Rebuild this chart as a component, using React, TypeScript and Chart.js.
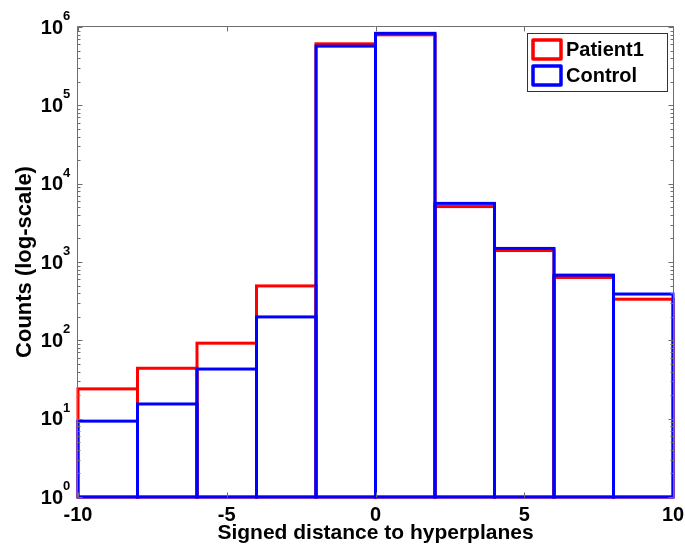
import { useEffect, useRef } from 'react';
import { Chart, registerables } from 'chart.js';

Chart.register(...registerables);

// ---- data ----
const binCenters = [-9, -7, -5, -3, -1, 1, 3, 5, 7, 9];
const patient1Counts = [24, 44, 92, 495, 610000, 795000, 5100, 1400, 635, 335];
const controlCounts = [9.3, 15.4, 43, 199, 570000, 830000, 5600, 1490, 680, 390];
const xTickValues = [-10, -5, 0, 5, 10];
const yDecadeExponents = [0, 1, 2, 3, 4, 5, 6];
const seriesNames = ['Patient1', 'Control'];
const seriesColors = ['#ff0000', '#0000ff'];
const xAxisTitle = 'Signed distance to hyperplanes';
const yAxisTitle = 'Counts (log-scale)';

const FONT = '"Liberation Sans", Arial, Helvetica, sans-serif';
const AXIS_GRAY = '#6e6e6e';
const BAR_LINE = 3;

// strokes each bar outline centred on the bar's edges (MATLAB hist style)
const barOutlinePlugin = {
  id: 'barOutline',
  afterDatasetsDraw(chart: any) {
    const ctx = chart.ctx as CanvasRenderingContext2D;
    ctx.save();
    ctx.lineWidth = BAR_LINE;
    ctx.lineJoin = 'miter';
    chart.data.datasets.forEach((ds: any, di: number) => {
      const meta = chart.getDatasetMeta(di);
      ctx.strokeStyle = ds.outlineColor;
      meta.data.forEach((el: any) => {
        const { x, y, base, width } = el.getProps(['x', 'y', 'base', 'width'], true);
        ctx.strokeRect(x - width / 2, y, width, base - y);
      });
    });
    ctx.restore();
  },
};

const matlabAxesPlugin = {
  id: 'matlabAxes',
  afterDraw(chart: any) {
    const ctx = chart.ctx as CanvasRenderingContext2D;
    const { left, right, top, bottom } = chart.chartArea;
    const xs = chart.scales.x;
    const ys = chart.scales.y;
    ctx.save();
    ctx.strokeStyle = AXIS_GRAY;
    ctx.lineWidth = 1;
    const L = Math.round(left) - 0.5;
    const R = Math.round(right) + 0.5;
    const T = Math.round(top) - 0.5;
    const B = Math.round(bottom) + 0.5;
    ctx.beginPath();
    ctx.moveTo(L, B);
    ctx.lineTo(L, T);
    ctx.lineTo(R, T);
    ctx.lineTo(R, B);
    for (const v of xTickValues) {
      const px = Math.round(xs.getPixelForValue(v)) + 0.5;
      ctx.moveTo(px, B);
      ctx.lineTo(px, B - 5);
      ctx.moveTo(px, T);
      ctx.lineTo(px, T + 5);
    }
    for (const e of yDecadeExponents) {
      const py = Math.round(ys.getPixelForValue(Math.pow(10, e))) + 0.5;
      ctx.moveTo(L, py);
      ctx.lineTo(L + 5, py);
      ctx.moveTo(R, py);
      ctx.lineTo(R - 5, py);
      if (e < yDecadeExponents[yDecadeExponents.length - 1]) {
        for (let m = 2; m <= 9; m++) {
          const pm = Math.round(ys.getPixelForValue(m * Math.pow(10, e))) + 0.5;
          ctx.moveTo(L, pm);
          ctx.lineTo(L + 3, pm);
          ctx.moveTo(R, pm);
          ctx.lineTo(R - 3, pm);
        }
      }
    }
    ctx.stroke();

    // y tick labels 10^e
    ctx.fillStyle = '#000';
    for (const e of yDecadeExponents) {
      const py = ys.getPixelForValue(Math.pow(10, e));
      ctx.font = `bold 20px ${FONT}`;
      ctx.textAlign = 'right';
      ctx.textBaseline = 'middle';
      ctx.fillText('10', left - 15, py + 1);
      ctx.font = `bold 13px ${FONT}`;
      ctx.textAlign = 'left';
      ctx.textBaseline = 'alphabetic';
      ctx.fillText(String(e), left - 15, py - 7);
    }

    // y axis title
    ctx.save();
    ctx.translate(25, (top + bottom) / 2);
    ctx.rotate(-Math.PI / 2);
    ctx.font = `bold 22px ${FONT}`;
    ctx.textAlign = 'center';
    ctx.textBaseline = 'middle';
    ctx.fillText(yAxisTitle, 0, 0);
    ctx.restore();

    // legend
    const lw = 140;
    const lh = 58;
    const lx = right - 6 - lw;
    const ly = top + 6;
    ctx.fillStyle = '#fff';
    ctx.fillRect(lx, ly, lw, lh);
    ctx.strokeStyle = '#333';
    ctx.lineWidth = 1;
    ctx.strokeRect(Math.round(lx) + 0.5, Math.round(ly) + 0.5, lw, lh);
    seriesNames.forEach((name, i) => {
      const cy = ly + 16 + i * 26;
      ctx.strokeStyle = seriesColors[i];
      ctx.lineWidth = 3.5;
      ctx.lineJoin = 'round';
      ctx.strokeRect(lx + 6, cy - 9, 28, 19);
      ctx.fillStyle = '#000';
      ctx.font = `bold 20px ${FONT}`;
      ctx.textAlign = 'left';
      ctx.textBaseline = 'middle';
      ctx.fillText(name, lx + 39, cy + 1);
    });
    ctx.restore();
  },
};

export default function App() {
  const canvasRef = useRef<HTMLCanvasElement | null>(null);

  useEffect(() => {
    if (!canvasRef.current) return;
    const common = {
      backgroundColor: 'rgba(0,0,0,0)',
      borderWidth: 0,
      barPercentage: 1,
      categoryPercentage: 1,
      grouped: false,
    };
    const chart = new Chart(canvasRef.current, {
      type: 'bar',
      data: {
        datasets: [
          {
            label: seriesNames[0],
            data: binCenters.map((c, i) => ({ x: c, y: patient1Counts[i] })),
            outlineColor: seriesColors[0],
            borderColor: seriesColors[0],
            ...common,
          },
          {
            label: seriesNames[1],
            data: binCenters.map((c, i) => ({ x: c, y: controlCounts[i] })),
            outlineColor: seriesColors[1],
            borderColor: seriesColors[1],
            ...common,
          },
        ],
      } as any,
      options: {
        responsive: false,
        animation: false,
        events: [],
        layout: { padding: { left: 0, top: 27, right: 12, bottom: 0 } },
        plugins: {
          legend: { display: false },
          tooltip: { enabled: false },
        },
        scales: {
          x: {
            type: 'linear',
            offset: false,
            min: -10,
            max: 10,
            grid: { display: false, drawTicks: false, offset: false },
            border: { display: false },
            ticks: {
              stepSize: 5,
              autoSkip: false,
              maxRotation: 0,
              color: '#000',
              padding: 6,
              font: { family: FONT, size: 20, weight: 'bold' },
              callback: (v: any) => String(v),
            },
            title: {
              display: true,
              text: xAxisTitle,
              color: '#000',
              padding: { top: 0, bottom: 4 },
              font: { family: FONT, size: 21, weight: 'bold' },
            },
            afterFit: (s: any) => {
              s.height = 53;
              s.paddingLeft = 0;
              s.paddingRight = 0;
            },
          },
          y: {
            type: 'logarithmic',
            min: 1,
            max: 1e6,
            grid: { display: false, drawTicks: false },
            border: { display: false },
            ticks: { display: false },
            afterFit: (s: any) => {
              s.width = 78;
              s.paddingTop = 0;
              s.paddingBottom = 0;
            },
          },
        },
      } as any,
      plugins: [barOutlinePlugin, matlabAxesPlugin],
    });
    return () => chart.destroy();
  }, []);

  return (
    <div style={{ position: 'fixed', left: 0, top: 0, width: 685, height: 550, background: '#fff' }}>
      <canvas ref={canvasRef} width={685} height={550} style={{ display: 'block' }} />
    </div>
  );
}
